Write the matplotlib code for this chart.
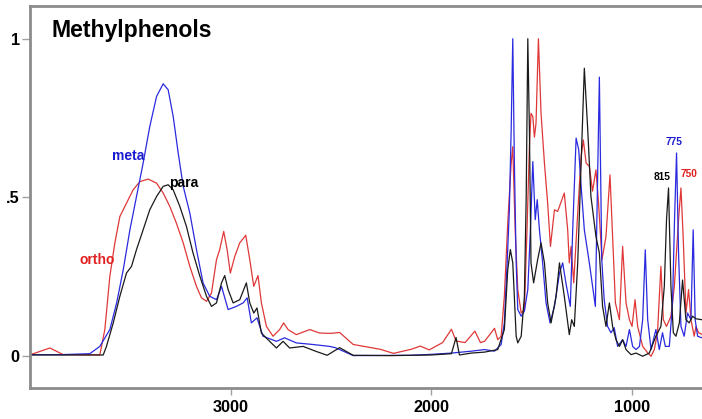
import matplotlib
matplotlib.use("Agg")
import matplotlib.pyplot as plt

# wavenumber (cm-1) / normalised absorbance
ortho_wn = [4000, 3903, 3837, 3654, 3629, 3604, 3579, 3554, 3521, 3488, 3454, 3413, 3371, 3338,
            3305, 3272, 3238, 3205, 3172, 3147, 3122, 3097, 3072, 3056, 3036, 3019, 3003, 2981,
            2956, 2926, 2906, 2886, 2865, 2848, 2823, 2790, 2757, 2737, 2715, 2674, 2607, 2557,
            2502, 2458, 2390, 2256, 2189, 2100, 2055, 2011, 1944, 1900, 1877, 1832, 1783, 1755,
            1735, 1720, 1685, 1669, 1652, 1636, 1619, 1602, 1594, 1582, 1569, 1552, 1536, 1523,
            1511, 1503, 1494, 1486, 1478, 1466, 1453, 1436, 1420, 1406, 1386, 1370, 1337, 1320,
            1312, 1303, 1290, 1270, 1253, 1242, 1228, 1212, 1196, 1179, 1166, 1149, 1129, 1109,
            1096, 1082, 1062, 1046, 1029, 1012, 999, 984, 971, 946, 920, 904, 888, 872, 855, 843,
            827, 805, 788, 767, 755, 744, 730, 717, 705, 689, 680, 667, 650]
ortho_abs = [0.005, 0.026, 0.005, 0.004, 0.084, 0.252, 0.357, 0.440, 0.482, 0.524, 0.550, 0.558,
             0.545, 0.514, 0.472, 0.419, 0.357, 0.283, 0.220, 0.184, 0.173, 0.199, 0.304, 0.336,
             0.393, 0.336, 0.262, 0.314, 0.357, 0.381, 0.304, 0.220, 0.254, 0.168, 0.094, 0.063,
             0.084, 0.105, 0.084, 0.068, 0.084, 0.073, 0.072, 0.075, 0.037, 0.022, 0.009, 0.022,
             0.032, 0.020, 0.043, 0.085, 0.048, 0.043, 0.079, 0.043, 0.047, 0.059, 0.088, 0.052,
             0.063, 0.189, 0.419, 0.608, 0.660, 0.398, 0.210, 0.136, 0.147, 0.398, 0.660, 0.765,
             0.755, 0.690, 0.734, 1.000, 0.765, 0.608, 0.482, 0.346, 0.461, 0.456, 0.514, 0.398,
             0.294, 0.346, 0.231, 0.451, 0.629, 0.681, 0.608, 0.598, 0.520, 0.587, 0.482, 0.304,
             0.377, 0.571, 0.377, 0.168, 0.115, 0.346, 0.168, 0.115, 0.094, 0.178, 0.094, 0.031,
             0.010, 0.000, 0.021, 0.074, 0.283, 0.115, 0.094, 0.126, 0.220, 0.430, 0.530, 0.377,
             0.136, 0.210, 0.115, 0.063, 0.094, 0.074, 0.069]

meta_wn = [4000, 3850, 3704, 3654, 3604, 3570, 3537, 3504, 3471, 3438, 3405, 3371, 3338, 3313,
           3288, 3263, 3238, 3205, 3172, 3139, 3106, 3072, 3047, 3014, 2973, 2939, 2919, 2898,
           2870, 2840, 2773, 2732, 2674, 2591, 2508, 2479, 2390, 2100, 2000, 1900, 1800, 1735,
           1685, 1652, 1636, 1622, 1611, 1602, 1594, 1586, 1577, 1569, 1552, 1536, 1519, 1506,
           1494, 1482, 1472, 1461, 1445, 1428, 1408, 1386, 1361, 1345, 1329, 1307, 1295, 1278,
           1265, 1253, 1237, 1212, 1182, 1162, 1150, 1138, 1121, 1104, 1088, 1071, 1046, 1029,
           1012, 996, 979, 962, 946, 933, 921, 904, 880, 863, 847, 833, 813, 797, 787, 777, 767,
           755, 739, 722, 705, 694, 684, 672, 650]
meta_abs = [0.005, 0.005, 0.008, 0.031, 0.084, 0.168, 0.273, 0.398, 0.503, 0.608, 0.723, 0.818,
            0.858, 0.839, 0.755, 0.640, 0.535, 0.451, 0.336, 0.231, 0.189, 0.178, 0.220, 0.147,
            0.157, 0.168, 0.184, 0.105, 0.121, 0.063, 0.047, 0.058, 0.042, 0.037, 0.031, 0.027,
            0.002, 0.003, 0.006, 0.010, 0.016, 0.021, 0.016, 0.037, 0.105, 0.294, 0.461, 0.713,
            1.000, 0.609, 0.294, 0.147, 0.126, 0.142, 0.210, 0.398, 0.613, 0.430, 0.493, 0.398,
            0.294, 0.168, 0.105, 0.157, 0.262, 0.294, 0.231, 0.157, 0.398, 0.687, 0.650, 0.535,
            0.398, 0.294, 0.157, 0.879, 0.304, 0.178, 0.094, 0.074, 0.090, 0.031, 0.052, 0.031,
            0.084, 0.031, 0.021, 0.031, 0.115, 0.335, 0.115, 0.021, 0.084, 0.021, 0.074, 0.031,
            0.031, 0.168, 0.430, 0.640, 0.325, 0.094, 0.063, 0.136, 0.115, 0.398, 0.115, 0.063,
            0.058]

para_wn = [4000, 3850, 3637, 3621, 3587, 3554, 3521, 3496, 3471, 3438, 3405, 3371, 3338, 3313,
           3288, 3255, 3222, 3189, 3155, 3122, 3097, 3072, 3047, 3031, 3014, 2989, 2956, 2923,
           2906, 2886, 2870, 2848, 2807, 2773, 2740, 2707, 2640, 2574, 2520, 2458, 2390, 2200,
           2000, 1900, 1877, 1860, 1800, 1735, 1669, 1636, 1619, 1606, 1594, 1577, 1569, 1552,
           1536, 1527, 1519, 1511, 1503, 1490, 1470, 1453, 1436, 1420, 1403, 1378, 1361, 1337,
           1312, 1300, 1287, 1270, 1253, 1237, 1220, 1204, 1179, 1162, 1146, 1129, 1112, 1096,
           1079, 1062, 1046, 1029, 1004, 979, 946, 913, 880, 855, 838, 827, 817, 805, 793, 780,
           763, 747, 730, 714, 697, 680, 650]
para_abs = [0.004, 0.004, 0.004, 0.031, 0.105, 0.189, 0.262, 0.283, 0.336, 0.398, 0.461, 0.503,
            0.535, 0.540, 0.524, 0.472, 0.409, 0.325, 0.252, 0.189, 0.157, 0.168, 0.231, 0.254,
            0.210, 0.168, 0.178, 0.231, 0.168, 0.136, 0.152, 0.073, 0.047, 0.026, 0.047, 0.026,
            0.031, 0.015, 0.003, 0.027, 0.003, 0.002, 0.004, 0.008, 0.059, 0.004, 0.010, 0.013,
            0.021, 0.084, 0.273, 0.336, 0.294, 0.063, 0.042, 0.063, 0.189, 0.503, 1.000, 0.713,
            0.294, 0.231, 0.304, 0.357, 0.294, 0.168, 0.105, 0.189, 0.294, 0.189, 0.068, 0.115,
            0.094, 0.294, 0.608, 0.907, 0.713, 0.503, 0.377, 0.325, 0.157, 0.094, 0.168, 0.094,
            0.052, 0.031, 0.052, 0.021, 0.005, 0.010, 0.000, 0.010, 0.063, 0.094, 0.220, 0.430,
            0.530, 0.220, 0.074, 0.063, 0.105, 0.240, 0.115, 0.105, 0.126, 0.118, 0.115]

x_ticks = [3000, 2000, 1000]
y_ticks = [0, 0.5, 1]
y_labels = ["0", ".5", "1"]

plt.rcParams['font.family'] = ['Liberation Sans', 'DejaVu Sans']

fig = plt.figure(figsize=(7.02, 4.19), dpi=100)
ax = fig.add_axes([0.0434, 0.074, 0.9566, 0.9117])

ax.plot(ortho_wn, ortho_abs, color='#e03838', lw=0.9)
ax.plot(meta_wn, meta_abs, color='#2a2ae0', lw=0.9)
ax.plot(para_wn, para_abs, color='#1a1a1a', lw=0.9)

ax.set_xlim(4000, 650)
ax.set_ylim(-0.1, 1.103)
ax.set_xticks(x_ticks)
ax.set_yticks(y_ticks)
ax.set_yticklabels(y_labels)

for s in ['left', 'bottom', 'top']:
    ax.spines[s].set_color('#8c8c8c')
    ax.spines[s].set_linewidth(2.0)
ax.spines['right'].set_visible(False)
ax.tick_params(axis='x', length=5, width=1, color='#a0a0a0', pad=4, labelsize=11.7)
ax.tick_params(axis='y', length=5.8, width=1, color='#a0a0a0', pad=2, labelsize=11.7)
for lab in ax.get_xticklabels() + ax.get_yticklabels():
    lab.set_fontweight('bold')

ax.text(0.032, 0.918, "Methylphenols", transform=ax.transAxes, fontsize=16.6,
        fontweight='bold', va='baseline', ha='left')

# curve labels
ax.text(3595, 0.632, "meta", color='#1a1ad0', fontsize=10, fontweight='bold', va='center')
ax.text(3757, 0.304, "ortho", color='#e02020', fontsize=10, fontweight='bold', va='center')
ax.text(3308, 0.545, "para", color='black', fontsize=10, fontweight='bold', va='center')
ax.text(848, 0.564, "815", color='black', fontsize=7.3, fontweight='bold', ha='center', va='center')
ax.text(788, 0.676, "775", color='#1a1ad0', fontsize=7.3, fontweight='bold', ha='center', va='center')
ax.text(713, 0.574, "750", color='#e02020', fontsize=7.3, fontweight='bold', ha='center', va='center')

fig.savefig("out.png", dpi=100)
